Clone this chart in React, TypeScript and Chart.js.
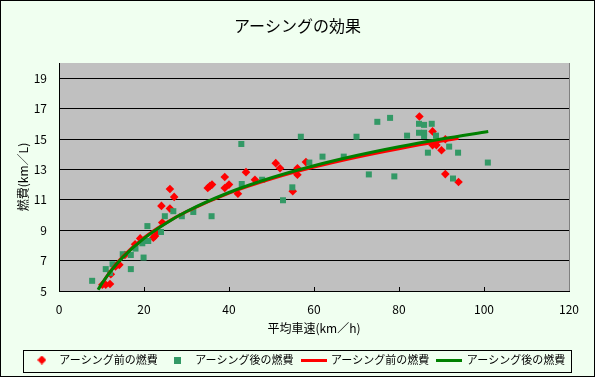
import React, { useEffect, useRef } from 'react';
import { Chart, registerables } from 'chart.js';

Chart.register(...registerables);

const FONT = "'Noto Sans CJK JP', 'Noto Sans', sans-serif";

const TITLE = 'アーシングの効果';
const X_TITLE = '平均車速(km／h)';
const Y_TITLE = '燃費(km／L)';
const SERIES_NAMES = ['アーシング前の燃費', 'アーシング後の燃費', 'アーシング前の燃費', 'アーシング後の燃費'];

const xTickValues = [0, 20, 40, 60, 80, 100, 120];
const yTickValues = [5, 7, 9, 11, 13, 15, 17, 19];

// Before earthing (red diamonds)
const beforeSpeed = [10.2, 11.0, 12.0, 12.2, 13.3, 14.2, 15.5, 17.9, 19.1, 22.2, 22.6, 22.9, 24.1, 24.3, 26.1, 26.1, 27.1, 35.0, 35.5, 36.0, 39.0, 39.0, 40.0, 42.1, 44.0, 46.1, 51.0, 52.0, 55.0, 56.1, 56.1, 58.1, 84.8, 87.9, 87.9, 88.8, 90.0, 90.9, 90.9, 94.0];
const beforeMileage = [5.41, 5.41, 5.46, 6.10, 6.62, 6.72, 7.37, 8.07, 8.46, 8.50, 8.62, 8.90, 10.60, 9.50, 10.42, 11.71, 11.19, 11.78, 11.90, 12.00, 12.50, 11.78, 12.00, 11.40, 12.82, 12.32, 13.41, 13.08, 11.56, 13.08, 12.65, 13.48, 16.48, 15.50, 14.60, 14.60, 14.26, 14.98, 12.69, 12.17];

// After earthing (green squares)
const afterSpeed = [7.8, 11.0, 12.0, 12.6, 15.0, 16.9, 16.9, 18.0, 19.6, 19.9, 19.9, 21.0, 20.8, 24.0, 24.9, 26.9, 28.9, 31.6, 35.9, 42.9, 43.0, 47.8, 52.7, 54.9, 56.9, 58.9, 62.0, 67.0, 70.0, 72.9, 74.9, 77.9, 78.9, 81.9, 84.7, 84.7, 85.9, 85.9, 85.9, 86.8, 87.7, 88.7, 91.8, 92.7, 93.9, 100.9];
const afterMileage = [5.67, 6.44, 6.18, 6.76, 7.42, 6.44, 7.37, 7.79, 8.14, 7.20, 8.29, 8.29, 9.27, 8.88, 9.92, 10.25, 9.92, 10.20, 9.92, 14.67, 12.04, 12.32, 10.97, 11.82, 15.15, 13.45, 13.84, 13.84, 15.15, 12.67, 16.13, 16.39, 12.54, 15.22, 16.00, 15.41, 15.93, 15.41, 15.20, 14.10, 16.00, 15.22, 14.50, 12.40, 14.10, 13.45];

// Trend lines
const beforeFitSpeed = [10.2, 12, 15, 20, 25, 30, 40, 50, 60, 70, 80, 90, 94];
const beforeFitMileage = [5.5, 6.28, 7.26, 8.5, 9.45, 10.22, 11.44, 12.38, 13.15, 13.8, 14.36, 14.86, 15.04];
const afterFitSpeed = [9.2, 10, 12, 15, 20, 25, 30, 40, 50, 60, 70, 80, 90, 101];
const afterFitMileage = [5.08, 5.45, 6.24, 7.21, 8.46, 9.43, 10.23, 11.48, 12.45, 13.24, 13.91, 14.49, 15.0, 15.5];

const RED = '#FF0000';
const SQ_GREEN = '#339966';
const LINE_GREEN = '#008000';

const pts = (xs: number[], ys: number[]) => xs.map((x, i) => ({ x, y: ys[i] }));

function makeIcon(w: number, h: number, draw: (c: CanvasRenderingContext2D) => void) {
  const cv = document.createElement('canvas');
  cv.width = w;
  cv.height = h;
  const c = cv.getContext('2d')!;
  draw(c);
  return cv;
}

const decorPlugin = {
  id: 'decor',
  afterLayout(chart: any) {
    // centre the title and the legend on the whole canvas, not on the padded area
    const w = chart.width;
    if (chart.titleBlock) {
      chart.titleBlock.left = 0;
      chart.titleBlock.right = w;
      chart.titleBlock.width = w;
    }
    if (chart.legend) {
      chart.legend.left = 0;
      chart.legend.right = w;
      chart.legend.width = w;
    }
  },
  beforeDraw(chart: any) {
    const { ctx, width, height, chartArea: a } = chart;
    ctx.save();
    ctx.fillStyle = '#F0FFF0';
    ctx.fillRect(0, 0, width, height);
    ctx.fillStyle = '#C0C0C0';
    ctx.fillRect(a.left, a.top, a.right - a.left, a.bottom - a.top);
    ctx.restore();
  },
  afterDraw(chart: any) {
    const { ctx, width, height, chartArea: a } = chart;
    ctx.save();
    ctx.lineWidth = 1;
    ctx.strokeStyle = '#808080';
    ctx.beginPath();
    ctx.moveTo(Math.round(a.right) + 0.5, a.top);
    ctx.lineTo(Math.round(a.right) + 0.5, a.bottom);
    ctx.stroke();
    const boxes = (chart.legend && chart.legend.legendHitBoxes) || [];
    if (boxes.length) {
      const l = Math.min(...boxes.map((b: any) => b.left)) - 6.5;
      const r = Math.max(...boxes.map((b: any) => b.left + b.width)) + 6.5;
      const t = Math.min(...boxes.map((b: any) => b.top)) - 5;
      const bt = Math.max(...boxes.map((b: any) => b.top + b.height)) + 6;
      ctx.strokeStyle = '#000';
      ctx.strokeRect(Math.round(l) + 0.5, Math.round(t) + 0.5, Math.round(r - l), Math.round(bt - t));
    }
    ctx.strokeStyle = '#000';
    ctx.strokeRect(0.5, 0.5, width - 1, height - 1);
    ctx.restore();
  },
};

export default function App() {
  const ref = useRef<HTMLCanvasElement>(null);

  useEffect(() => {
    if (!ref.current) return;
    const icons = [
      makeIcon(9, 9, (c) => {
        c.fillStyle = RED;
        c.beginPath();
        c.moveTo(4.5, 0);
        c.lineTo(9, 4.5);
        c.lineTo(4.5, 9);
        c.lineTo(0, 4.5);
        c.closePath();
        c.fill();
      }),
      makeIcon(7, 7, (c) => {
        c.fillStyle = SQ_GREEN;
        c.fillRect(0, 0, 7, 7);
      }),
      makeIcon(26, 3, (c) => {
        c.fillStyle = RED;
        c.fillRect(0, 0, 26, 3);
      }),
      makeIcon(26, 3, (c) => {
        c.fillStyle = LINE_GREEN;
        c.fillRect(0, 0, 26, 3);
      }),
    ];

    const chart = new Chart(ref.current, {
      type: 'scatter',
      data: {
        datasets: [
          {
            label: SERIES_NAMES[0],
            data: pts(beforeSpeed, beforeMileage),
            pointStyle: 'rectRot',
            pointRadius: 4.3,
            pointBorderWidth: 0,
            backgroundColor: RED,
            borderColor: RED,
            order: 3,
          },
          {
            label: SERIES_NAMES[1],
            data: pts(afterSpeed, afterMileage),
            pointStyle: 'rect',
            pointRadius: 4.25,
            pointBorderWidth: 0,
            backgroundColor: SQ_GREEN,
            borderColor: SQ_GREEN,
            order: 2,
          },
          {
            label: SERIES_NAMES[2],
            data: pts(beforeFitSpeed, beforeFitMileage),
            showLine: true,
            pointRadius: 0,
            borderColor: RED,
            backgroundColor: RED,
            borderWidth: 3,
            cubicInterpolationMode: 'monotone',
            order: 1,
          },
          {
            label: SERIES_NAMES[3],
            data: pts(afterFitSpeed, afterFitMileage),
            showLine: true,
            pointRadius: 0,
            borderColor: LINE_GREEN,
            backgroundColor: LINE_GREEN,
            borderWidth: 3,
            cubicInterpolationMode: 'monotone',
            order: 0,
          },
        ] as any,
      },
      options: {
        animation: false,
        responsive: false,
        devicePixelRatio: 1,
        layout: { padding: { left: 0, right: 26, top: 0, bottom: 1.5 } },
        plugins: {
          title: {
            display: true,
            text: TITLE,
            color: '#000',
            font: { family: FONT, size: 16, weight: 'normal', lineHeight: 1 },
            padding: { top: 18, bottom: 29 },
          },
          legend: {
            position: 'bottom',
            labels: {
              usePointStyle: true,
              pointStyleWidth: 24,
              boxHeight: 11,
              padding: 8,
              color: '#000',
              font: { family: FONT, size: 11 },
              sort: (a: any, b: any) => a.datasetIndex - b.datasetIndex,
              generateLabels: (ch: any) => {
                const items = (Chart.defaults.plugins.legend.labels as any).generateLabels(ch);
                return items.map((it: any) => ({
                  ...it,
                  text: SERIES_NAMES[it.datasetIndex],
                  pointStyle: icons[it.datasetIndex],
                  lineWidth: 0,
                }));
              },
            },
          },
          tooltip: { enabled: false },
        },
        scales: {
          x: {
            type: 'linear',
            min: 0,
            max: 120,
            ticks: {
              stepSize: 20,
              color: '#000',
              padding: 15,
              font: { family: FONT, size: 12, lineHeight: 1.2 },
            },
            grid: { drawOnChartArea: false, drawTicks: true, tickLength: -4, color: '#000' },
            border: { display: true, color: '#000', width: 1 },
            title: {
              display: true,
              text: X_TITLE,
              color: '#000',
              font: { family: FONT, size: 12, lineHeight: 1.2 },
              padding: { top: 0, bottom: 11 },
            },
            afterBuildTicks: (s: any) => {
              s.ticks = xTickValues.map((v) => ({ value: v }));
            },
            afterFit: (s: any) => {
              s.height = 55.5;
            },
          },
          y: {
            type: 'linear',
            min: 5,
            max: 20,
            ticks: {
              color: '#000',
              padding: 12,
              font: { family: FONT, size: 12, lineHeight: 1.2 },
            },
            grid: { color: '#000', drawTicks: false, lineWidth: 1 },
            border: { display: true, color: '#000', width: 1 },
            title: {
              display: true,
              text: Y_TITLE,
              color: '#000',
              font: { family: FONT, size: 12, lineHeight: 1.2 },
              padding: { top: 16, bottom: 0 },
            },
            afterBuildTicks: (s: any) => {
              s.ticks = yTickValues.map((v) => ({ value: v }));
            },
            afterFit: (s: any) => {
              s.width = 59;
            },
          },
        },
      } as any,
      plugins: [decorPlugin],
    });

    return () => chart.destroy();
  }, []);

  return (
    <div style={{ position: 'absolute', left: 0, top: 0, width: 595, height: 377 }}>
      <canvas ref={ref} width={595} height={377} style={{ display: 'block', width: 595, height: 377 }} />
    </div>
  );
}
